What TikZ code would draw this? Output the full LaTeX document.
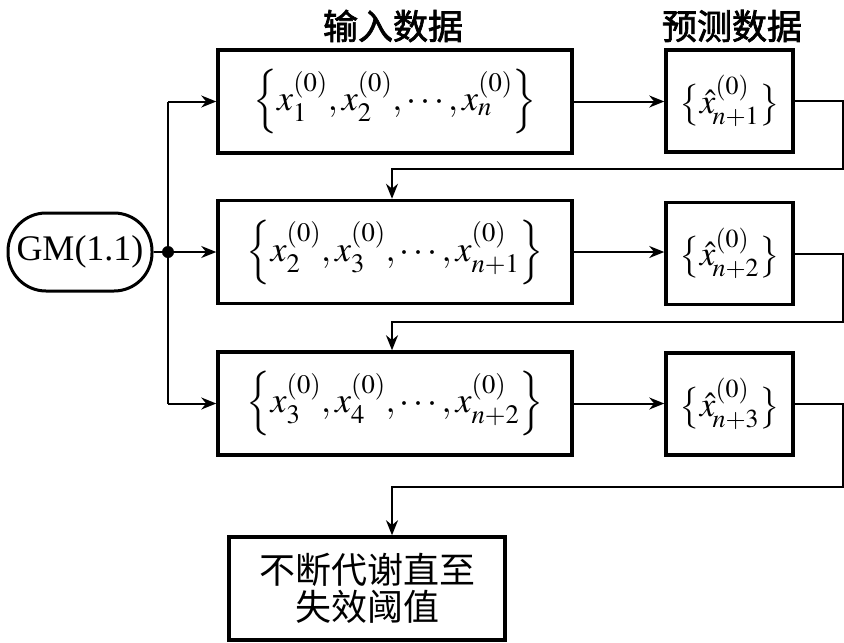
\documentclass[tikz,border=0pt]{standalone}
\usepackage{mathptmx}
\usepackage{fontspec}
\setmainfont{Liberation Serif}
\newfontfamily\cjk{Noto Sans CJK SC}
\newfontfamily\cjkb{Noto Sans CJK SC}[FakeBold=2]
\usetikzlibrary{arrows.meta}
\tikzset{
  bigbox/.style={draw, line width=3.5pt, minimum width=354pt, minimum height=103pt, inner sep=0pt,
    font=\fontsize{36}{42}\selectfont},
  smallbox/.style={draw, line width=3.5pt, minimum width=127pt, minimum height=102pt, inner sep=0pt,
    font=\fontsize{35}{40}\selectfont},
  endbox/.style={draw, line width=3.5pt, minimum width=276pt, minimum height=103pt, inner sep=0pt,
    align=center, font=\cjk\fontsize{36}{37}\selectfont},
  gmbox/.style={draw, line width=3pt, rounded corners=38pt, minimum width=144pt, minimum height=78pt,
    inner sep=0pt, font=\fontsize{36}{40}\selectfont},
  head/.style={font=\cjkb\fontsize{35}{38}\selectfont, inner sep=0pt},
  conn/.style={line width=2pt},
  arr/.style={conn, -{Stealth[length=15pt,width=12pt]}}
}
\begin{document}
\begin{tikzpicture}[x=1pt,y=-1pt]
\useasboundingbox (0,0) rectangle (844,643);
\node[head] (h1) at (393,26) {输入数据};
\node[head] (h2) at (732,26) {预测数据};

\node[bigbox] (b1) at (395,101.5) {$\Bigl\{x_1^{(0)}, x_2^{(0)},\cdots, x_n^{(0)}\Bigr\}$};
\node[bigbox] (b2) at (395,252) {$\Bigl\{x_2^{(0)}, x_3^{(0)},\cdots, x_{n+1}^{(0)}\Bigr\}$};
\node[bigbox] (b3) at (395,403.5) {$\Bigl\{x_3^{(0)}, x_4^{(0)},\cdots, x_{n+2}^{(0)}\Bigr\}$};

\node[smallbox] (s1) at (729.5,101) {$\bigl\{\hat{x}_{\!n+1}^{(0)}\bigr\}$};
\node[smallbox] (s2) at (729.5,253.5) {$\bigl\{\hat{x}_{\!n+2}^{(0)}\bigr\}$};
\node[smallbox] (s3) at (729.5,404) {$\bigl\{\hat{x}_{\!n+3}^{(0)}\bigr\}$};

\node[endbox] (e) at (367,588.5) {不断代谢直至\\失效阈值};

\node[gmbox] (gm) at (80,252) {GM(1.1)};
\node[circle, fill, inner sep=0pt, minimum size=12pt] (dot) at (168,252) {};

\coordinate (col) at (392,0);
\coordinate (k1) at (843,169);
\coordinate (k2) at (843,322);
\coordinate (k3) at (843,487);

\draw[conn] (gm.east) -- (dot.center);
\draw[conn] (dot |- b1.west) -- (dot |- b3.west);
\draw[arr] (dot |- b1.west) -- (b1.west);
\draw[arr] (dot.center) -- (b2.west);
\draw[arr] (dot |- b3.west) -- (b3.west);

\draw[arr] (b1.east) -- (b1.east -| s1.west);
\draw[arr] (b2.east) -- (b2.east -| s2.west);
\draw[arr] (b3.east) -- (b3.east -| s3.west);

\draw[arr] (s1.east) -| (k1) -| (b2.north -| col);
\draw[arr] (s2.east) -| (k2) -| (b3.north -| col);
\draw[arr] (s3.east) -| (k3) -| (e.north -| col);
\end{tikzpicture}
\end{document}
